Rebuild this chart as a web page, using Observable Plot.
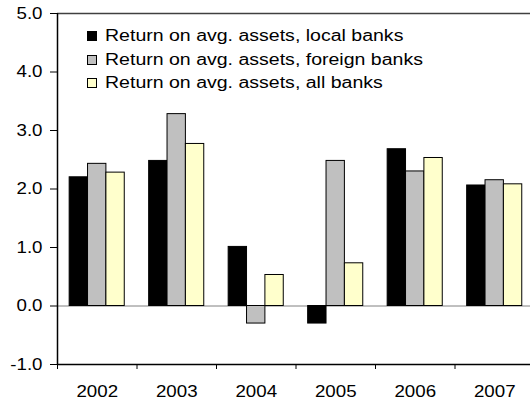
<!DOCTYPE html>
<html>
<head>
<meta charset="utf-8">
<script src="https://cdn.jsdelivr.net/npm/d3@7"></script>
<script src="https://cdn.jsdelivr.net/npm/@observablehq/plot@0.6"></script>
<style>
  html, body { margin: 0; padding: 0; background: #fff; overflow: hidden; }
  #wrap { position: relative; width: 530px; height: 401px; font-family: "Liberation Sans", Arial, sans-serif; }
  .lg-row { position: absolute; left: 87px; height: 24px; width: 420px; }
  .lg-sq { position: absolute; left: 0; width: 8px; height: 8px; border: 1px solid #000; }
  .lg-tx { position: absolute; left: 18px; font-size: 16px; line-height: 16px; white-space: nowrap; color: #000; transform-origin: 0 50%; transform: scaleX(1.22); }
</style>
</head>
<body>
<div id="wrap"></div>
<script>
const years = ["2002", "2003", "2004", "2005", "2006", "2007"];
const seriesNames = [
  "Return on avg. assets, local banks",
  "Return on avg. assets, foreign banks",
  "Return on avg. assets, all banks"
];
const localBanks   = [2.20, 2.48, 1.01, -0.30, 2.68, 2.06];
const foreignBanks = [2.43, 3.28, -0.30, 2.48, 2.30, 2.15];
const allBanks     = [2.28, 2.77, 0.53, 0.73, 2.53, 2.08];
const seriesColors = ["#000000", "#c0c0c0", "#ffffcc"];
const yTicks = [-1, 0, 1, 2, 3, 4, 5];

const seriesValues = [localBanks, foreignBanks, allBanks];
const rows = [];
years.forEach((yr, i) => {
  seriesValues.forEach((vals, s) => rows.push({i, s, year: yr, series: seriesNames[s], value: vals[i]}));
});

const groupOffset = 0.153, barW = 0.231;

const chart = Plot.plot({
  width: 530,
  height: 401,
  marginTop: 13,
  marginBottom: 37,
  marginLeft: 57,
  marginRight: 0,
  style: {fontFamily: "'Liberation Sans', Arial, sans-serif", fontSize: "16px", color: "#000", background: "#fff"},
  x: {type: "linear", domain: [0, years.length], range: [57, 534], label: null},
  y: {domain: [-1, 5], label: null},
  color: {domain: seriesNames, range: seriesColors},
  marks: [
    Plot.ruleY([0], {stroke: "#808080", strokeWidth: 1}),
    Plot.rect(rows, {
      x1: d => d.i + groupOffset + d.s * barW,
      x2: d => d.i + groupOffset + (d.s + 1) * barW,
      y1: () => 0,
      y2: "value",
      fill: "series",
      stroke: "#000",
      strokeWidth: 1
    }),
    Plot.ruleY([5], {stroke: "#404040", strokeWidth: 1.5}),
    Plot.ruleY([-1], {stroke: "#000", strokeWidth: 1.5}),
    Plot.ruleX([0], {stroke: "#000", strokeWidth: 1.5}),
    Plot.axisY({ticks: yTicks, tickFormat: d => d.toFixed(1), tickSize: 7, tickPadding: 8, label: null, stroke: "#000"}),
    Plot.axisX({ticks: d3.range(0, years.length + 1), tickSize: 5, tickFormat: () => "", label: null, stroke: "#000"}),
    Plot.axisX({ticks: years.map((_, i) => i + 0.5), tickSize: 0, tickPadding: 21, tickFormat: v => years[Math.floor(v)], label: null})
  ]
});

const wrap = document.getElementById("wrap");
wrap.appendChild(chart);
// horizontal stretch of glyphs, as in the reference
chart.querySelectorAll("text").forEach(t => {
  const tr = t.getAttribute("transform") || "";
  t.setAttribute("transform", tr + " scale(1.17,1)");
});

// Legend (inside plot area)
const rowTops = [30.5, 54.5, 77.5];
seriesNames.forEach((name, k) => {
  const row = document.createElement("div");
  row.className = "lg-row";
  row.style.top = rowTops[k] + "px";
  const sq = document.createElement("div");
  sq.className = "lg-sq";
  sq.style.background = seriesColors[k];
  sq.style.top = "0px";
  const tx = document.createElement("div");
  tx.className = "lg-tx";
  tx.style.top = "-3px";
  tx.textContent = name;
  row.appendChild(sq);
  row.appendChild(tx);
  wrap.appendChild(row);
});
</script>
</body>
</html>
